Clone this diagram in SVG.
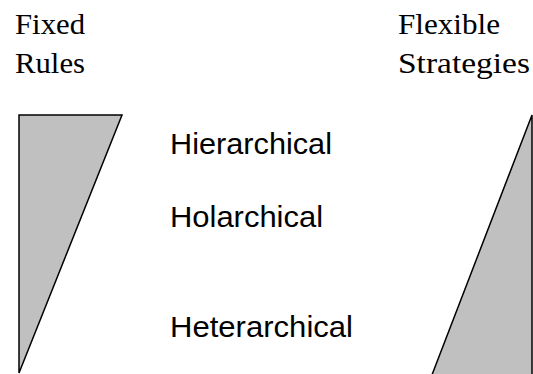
<svg xmlns="http://www.w3.org/2000/svg" width="533" height="374" viewBox="0 0 533 374">
<style>
.serif{font-family:"Liberation Serif","Times New Roman",serif;font-size:30px;fill:#000}
.sans{font-family:"Liberation Sans",Arial,sans-serif;font-size:30px;fill:#000}
.tri{fill:#c0c0c0;stroke:#000;stroke-width:1.5}
</style>
<rect width="533" height="374" fill="#fff"/>
<g id="fixed-rules">
<text class="serif" x="15" y="34" textLength="70" lengthAdjust="spacingAndGlyphs">Fixed</text>
<text class="serif" x="15" y="73" textLength="70" lengthAdjust="spacingAndGlyphs">Rules</text>
</g>
<g id="flexible-strategies">
<text class="serif" x="398" y="34" textLength="102" lengthAdjust="spacingAndGlyphs">Flexible</text>
<text class="serif" x="398" y="73" textLength="132" lengthAdjust="spacingAndGlyphs">Strategies</text>
</g>
<g id="left-wedge">
<polygon class="tri" points="19,115 122,115 19,373"/>
</g>
<g id="right-wedge">
<polygon class="tri" points="532,115 532,380 430,380"/>
</g>
<g id="hierarchical"><text class="sans" x="170" y="154" textLength="162" lengthAdjust="spacingAndGlyphs">Hierarchical</text></g>
<g id="holarchical"><text class="sans" x="170" y="227" textLength="153" lengthAdjust="spacingAndGlyphs">Holarchical</text></g>
<g id="heterarchical"><text class="sans" x="170" y="337" textLength="183" lengthAdjust="spacingAndGlyphs">Heterarchical</text></g>
</svg>
